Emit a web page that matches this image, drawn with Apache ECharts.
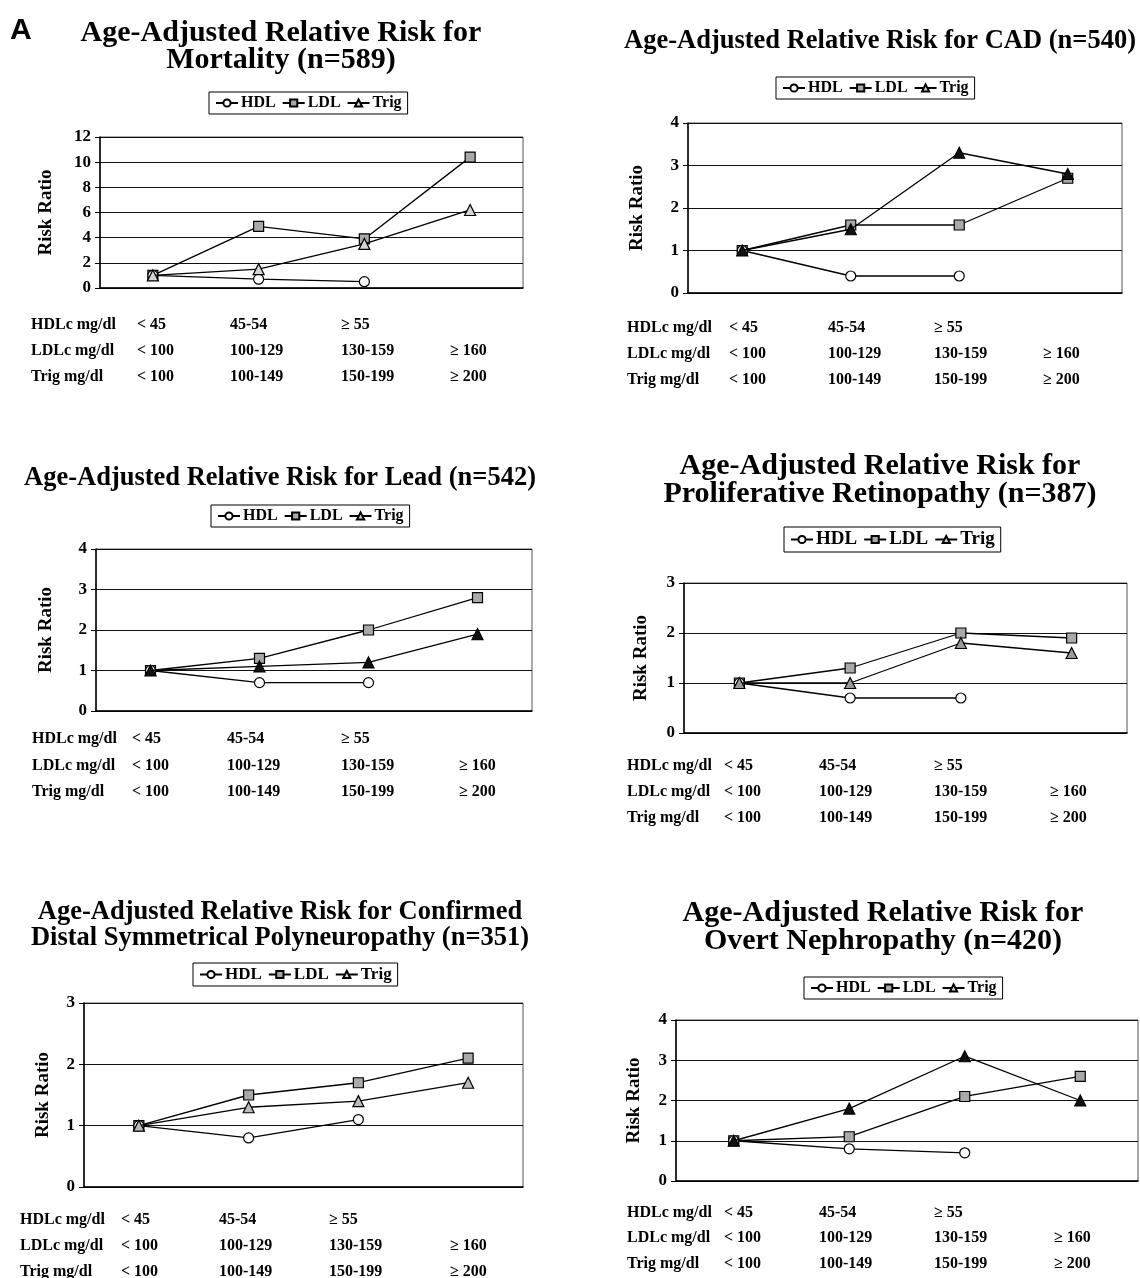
<!DOCTYPE html>
<html>
<head>
<meta charset="utf-8">
<script src="https://cdn.jsdelivr.net/npm/echarts@6/dist/echarts.min.js"></script>
<style>
  html, body { margin: 0; padding: 0; background: #fff; }
  #chart { width: 1140px; height: 1278px; }
</style>
</head>
<body>
<div id="chart"></div>
<script>
// category bands (LDL drives the axis, all three rows go into the table under each plot)
const hdlBands = ['< 45', '45-54', '≥ 55', ''];
const ldlBands = ['< 100', '100-129', '130-159', '≥ 160'];
const trigBands = ['< 100', '100-149', '150-199', '≥ 200'];
const rowLabels = ['HDLc mg/dl', 'LDLc mg/dl', 'Trig mg/dl'];
const seriesNames = ['HDL', 'LDL', 'Trig'];

const panelTitles = [
  'Age-Adjusted Relative Risk for\nMortality (n=589)',
  'Age-Adjusted Relative Risk for CAD (n=540)',
  'Age-Adjusted Relative Risk for Lead (n=542)',
  'Age-Adjusted Relative Risk for\nProliferative Retinopathy (n=387)',
  'Age-Adjusted Relative Risk for Confirmed\nDistal Symmetrical Polyneuropathy (n=351)',
  'Age-Adjusted Relative Risk for\nOvert Nephropathy (n=420)'
];

// risk ratios, one row per panel
const hdlValues = [
  [1, 0.7, 0.5],
  [1, 0.4, 0.4],
  [1, 0.7, 0.7],
  [1, 0.7, 0.7],
  [1, 0.8, 1.1],
  [1, 0.8, 0.7]
];
const ldlValues = [
  [1, 4.9, 3.9, 10.4],
  [1, 1.6, 1.6, 2.7],
  [1, 1.3, 2.0, 2.8],
  [1, 1.3, 2.0, 1.9],
  [1, 1.5, 1.7, 2.1],
  [1, 1.1, 2.1, 2.6]
];
const trigValues = [
  [1, 1.5, 3.5, 6.2],
  [1, 1.5, 3.3, 2.8],
  [1, 1.1, 1.2, 1.9],
  [1, 1.0, 1.8, 1.6],
  [1, 1.3, 1.4, 1.7],
  [1, 1.8, 3.1, 2.0]
];
const yMax = [12, 4, 4, 3, 3, 4];
const yStep = [2, 1, 1, 1, 1, 1];

// page layout (pixels)
const layout = [
  { grid: [100, 137, 423, 151], title: [281, 20], fs: 30, lh: 27, legend: [209, 92], lfs: 16, gap: 44,
    label: 31, cols: [137, 230, 341, 450], rows: [325, 351, 377], trig: '#d4d4d4' },
  { grid: [688, 123, 434, 170], title: [880, 27], fs: 26.5, lh: 28, legend: [776, 77], lfs: 16, gap: 41,
    label: 627, cols: [729, 828, 934, 1043], rows: [328, 354, 380], trig: '#111' },
  { grid: [96, 549, 436, 162], title: [280, 464], fs: 26.5, lh: 28, legend: [211, 505], lfs: 16, gap: 40,
    label: 32, cols: [132, 227, 341, 459], rows: [739, 766, 792], trig: '#111' },
  { grid: [684, 583, 443, 150], title: [880, 452], fs: 30, lh: 28, legend: [784, 527], lfs: 19, gap: 33,
    label: 627, cols: [724, 819, 934, 1050], rows: [766, 792, 818], trig: '#999' },
  { grid: [84, 1003, 439, 184], title: [280, 899], fs: 26.5, lh: 26, legend: [193, 963], lfs: 17, gap: 31,
    label: 20, cols: [121, 219, 329, 450], rows: [1220, 1246, 1272], trig: '#bbb' },
  { grid: [676, 1020, 462, 161], title: [883, 899], fs: 30, lh: 28, legend: [804, 977], lfs: 16, gap: 32,
    label: 627, cols: [724, 819, 934, 1054], rows: [1213, 1238, 1264], trig: '#111' }
];

const serif = '"Liberation Serif", "Times New Roman", serif';

const chart = echarts.init(document.getElementById('chart'));

const grids = [], xAxes = [], yAxes = [], legends = [], series = [];
const graphics = [{
  type: 'text', x: 10, y: 16,
  style: { text: 'A', font: 'bold 30px "Liberation Sans", Arial, sans-serif', fill: '#000' }
}];

layout.forEach((p, i) => {
  grids.push({
    left: p.grid[0], top: p.grid[1], width: p.grid[2], height: p.grid[3],
    show: true, borderColor: '#555', borderWidth: 1
  });
  xAxes.push({
    gridIndex: i, type: 'category', data: ldlBands, boundaryGap: true,
    axisLabel: { show: false },
    axisLine: { lineStyle: { color: '#000', width: 1.5 } },
    axisTick: { length: 5, lineStyle: { color: '#000', width: 1.2 } }
  });
  yAxes.push({
    gridIndex: i, type: 'value', min: 0, max: yMax[i], interval: yStep[i],
    name: 'Risk Ratio', nameLocation: 'middle', nameRotate: 90, nameGap: p.gap,
    nameTextStyle: { fontFamily: serif, fontWeight: 'bold', fontSize: 19, color: '#000' },
    axisLine: { show: true, lineStyle: { color: '#000', width: 1.5 } },
    axisTick: { show: true, length: 5, lineStyle: { color: '#000' } },
    axisLabel: { fontFamily: serif, fontWeight: 'bold', fontSize: 17, color: '#000', margin: 9 },
    splitLine: { lineStyle: { color: '#111', width: 1.2 } }
  });
  legends.push({
    data: seriesNames, left: p.legend[0], top: p.legend[1], selectedMode: false,
    itemWidth: 22, itemHeight: 9, itemGap: 6, padding: [3, 6],
    borderColor: '#000', borderWidth: 1,
    textStyle: { fontFamily: serif, fontWeight: 'bold', fontSize: p.lfs, color: '#000', padding: [0, 0, 0, -2] }
  });

  const common = { type: 'line', xAxisIndex: i, yAxisIndex: i, symbolSize: 10,
    lineStyle: { color: '#000', width: 1.3 } };
  series.push(Object.assign({}, common, {
    name: 'HDL', data: hdlValues[i], symbol: 'circle', z: 4,
    itemStyle: { color: '#fff', borderColor: '#000', borderWidth: 1.2 }
  }));
  series.push(Object.assign({}, common, {
    name: 'LDL', data: ldlValues[i], symbol: 'rect', z: 3,
    itemStyle: { color: '#a9a9a9', borderColor: '#000', borderWidth: 1.2 }
  }));
  series.push(Object.assign({}, common, {
    name: 'Trig', data: trigValues[i], symbol: 'triangle', symbolSize: 11, z: 5,
    itemStyle: { color: p.trig, borderColor: '#000', borderWidth: 1.2 }
  }));

  graphics.push({
    type: 'text', x: p.title[0], y: p.title[1],
    style: { text: panelTitles[i], font: 'bold ' + p.fs + 'px ' + serif, fill: '#000',
      align: 'center', verticalAlign: 'top', lineHeight: p.lh }
  });

  const tableRows = [hdlBands, ldlBands, trigBands];
  tableRows.forEach((row, r) => {
    graphics.push({
      type: 'text', x: p.label, y: p.rows[r],
      style: { text: rowLabels[r], font: 'bold 16px ' + serif, fill: '#000', verticalAlign: 'middle' }
    });
    row.forEach((txt, c) => {
      if (!txt) return;
      graphics.push({
        type: 'text', x: p.cols[c], y: p.rows[r],
        style: { text: txt, font: 'bold 16px ' + serif, fill: '#000', verticalAlign: 'middle' }
      });
    });
  });
});

chart.setOption({
  animation: false,
  backgroundColor: '#fff',
  grid: grids,
  xAxis: xAxes,
  yAxis: yAxes,
  legend: legends,
  series: series,
  graphic: graphics
});
</script>
</body>
</html>
